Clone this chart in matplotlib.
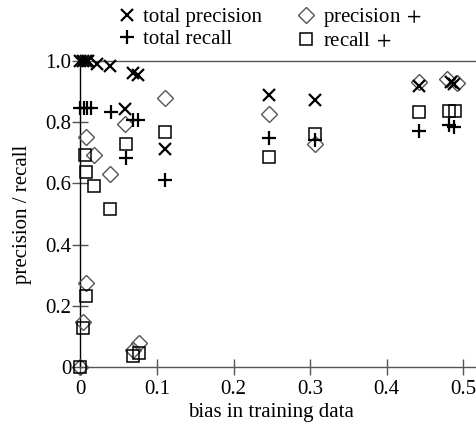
import matplotlib
matplotlib.use("Agg")
import matplotlib.pyplot as plt
from matplotlib.lines import Line2D

# ---- data ----
tp_x = [0.0, 0.003, 0.007, 0.010, 0.022, 0.038, 0.058, 0.068, 0.075, 0.110, 0.246, 0.306, 0.4425, 0.484, 0.488]
tp_y = [1.0, 1.0, 1.0, 1.0, 0.990, 0.984, 0.842, 0.960, 0.954, 0.712, 0.889, 0.873, 0.919, 0.930, 0.925]

tr_x = [0.0, 0.004, 0.008, 0.014, 0.040, 0.060, 0.069, 0.075, 0.110, 0.246, 0.306, 0.4425, 0.481, 0.488]
tr_y = [0.845, 0.845, 0.845, 0.845, 0.834, 0.682, 0.807, 0.807, 0.611, 0.749, 0.742, 0.771, 0.790, 0.785]

pp_x = [0.0, 0.003, 0.007, 0.007, 0.018, 0.038, 0.058, 0.068, 0.0765, 0.111, 0.246, 0.306, 0.4425, 0.479, 0.492]
pp_y = [0.0, 0.148, 0.273, 0.751, 0.693, 0.631, 0.794, 0.056, 0.077, 0.878, 0.827, 0.729, 0.930, 0.940, 0.927]

rp_x = [0.0, 0.003, 0.007, 0.006, 0.007, 0.018, 0.038, 0.060, 0.068, 0.0765, 0.110, 0.246, 0.306, 0.4425, 0.482, 0.489]
rp_y = [0.0, 0.126, 0.232, 0.693, 0.638, 0.592, 0.515, 0.729, 0.036, 0.047, 0.769, 0.685, 0.760, 0.832, 0.836, 0.836]

x_ticks = [0, 0.1, 0.2, 0.3, 0.4, 0.5]
x_tick_labels = ["0", "0.1", "0.2", "0.3", "0.4", "0.5"]
y_ticks = [0, 0.2, 0.4, 0.6, 0.8, 1.0]
y_tick_labels = ["0", "0.2", "0.4", "0.6", "0.8", "1.0"]

labels = ["total precision", "total recall", "precision$\\;+$", "recall$\\;+$"]

# ---- style ----
plt.rcParams["font.family"] = ["Liberation Serif", "DejaVu Serif"]
plt.rcParams["mathtext.fontset"] = "stix"
FS = 15

fig = plt.figure(figsize=(4.77, 4.26), dpi=100)
ax_left = 80.5 / 477
ax = fig.add_axes([ax_left, (426 - 367) / 426, 1 - ax_left, (367 - 61) / 426])

gray = "#555555"
D_MS, S_MS, P_MS, X_MS = 8.5, 9, 10, 9.3
ax.plot(pp_x, pp_y, linestyle="none", marker="D", ms=D_MS, mfc="none", mec=gray, mew=1.0, clip_on=False, zorder=3)
ax.plot(rp_x, rp_y, linestyle="none", marker="s", ms=S_MS, mfc="none", mec="black", mew=1.1, clip_on=False, zorder=3)
ax.plot(tr_x, tr_y, linestyle="none", marker="+", ms=P_MS, mec="black", mew=1.6, clip_on=False, zorder=4)
ax.plot(tp_x, tp_y, linestyle="none", marker="x", ms=X_MS, mec="black", mew=1.6, clip_on=False, zorder=4)

ax.set_xlim(0, 0.518)
ax.set_ylim(0, 1.0)

ax.spines["right"].set_visible(False)
ax.spines["left"].set_color("black")
ax.spines["left"].set_linewidth(1.0)
ax.spines["bottom"].set_color(gray)
ax.spines["bottom"].set_linewidth(1.0)
ax.spines["top"].set_color(gray)
ax.spines["top"].set_linewidth(1.0)

ax.set_xticks(x_ticks)
ax.set_xticklabels(x_tick_labels)
ax.set_yticks(y_ticks)
ax.set_yticklabels(y_tick_labels)
ax.tick_params(axis="both", direction="inout", length=11, width=1.0, color=gray,
               labelsize=FS, labelcolor="black", top=False, right=False)
ax.tick_params(axis="x", pad=4)
ax.tick_params(axis="y", pad=1)

ax.set_xlabel("bias in training data", fontsize=FS)
ax.xaxis.set_label_coords((271 - 80.5) / (477 - 80.5), -(413 - 367) / (367 - 61), transform=ax.transAxes)
ax.xaxis.label.set_verticalalignment("center")
ax.set_ylabel("precision / recall", fontsize=FS)
ax.yaxis.set_label_coords(-(80.5 - 23) / (477 - 80.5), 0.5, transform=ax.transAxes)
ax.yaxis.label.set_verticalalignment("center")

handles = [
    Line2D([], [], linestyle="none", marker="x", ms=X_MS, mec="black", mew=1.6),
    Line2D([], [], linestyle="none", marker="+", ms=P_MS, mec="black", mew=1.6),
    Line2D([], [], linestyle="none", marker="D", ms=D_MS, mfc="none", mec=gray, mew=1.0),
    Line2D([], [], linestyle="none", marker="s", ms=S_MS, mfc="none", mec="black", mew=1.1),
]
fig.legend(handles, labels, ncol=2, loc="upper left", bbox_to_anchor=(108 / 477, 1.0 + 2 / 426),
           frameon=False, fontsize=FS, handlelength=1.0, handletextpad=0.3,
           columnspacing=1.6, labelspacing=0.1, borderaxespad=0.0)

fig.savefig("out.png", dpi=100)
